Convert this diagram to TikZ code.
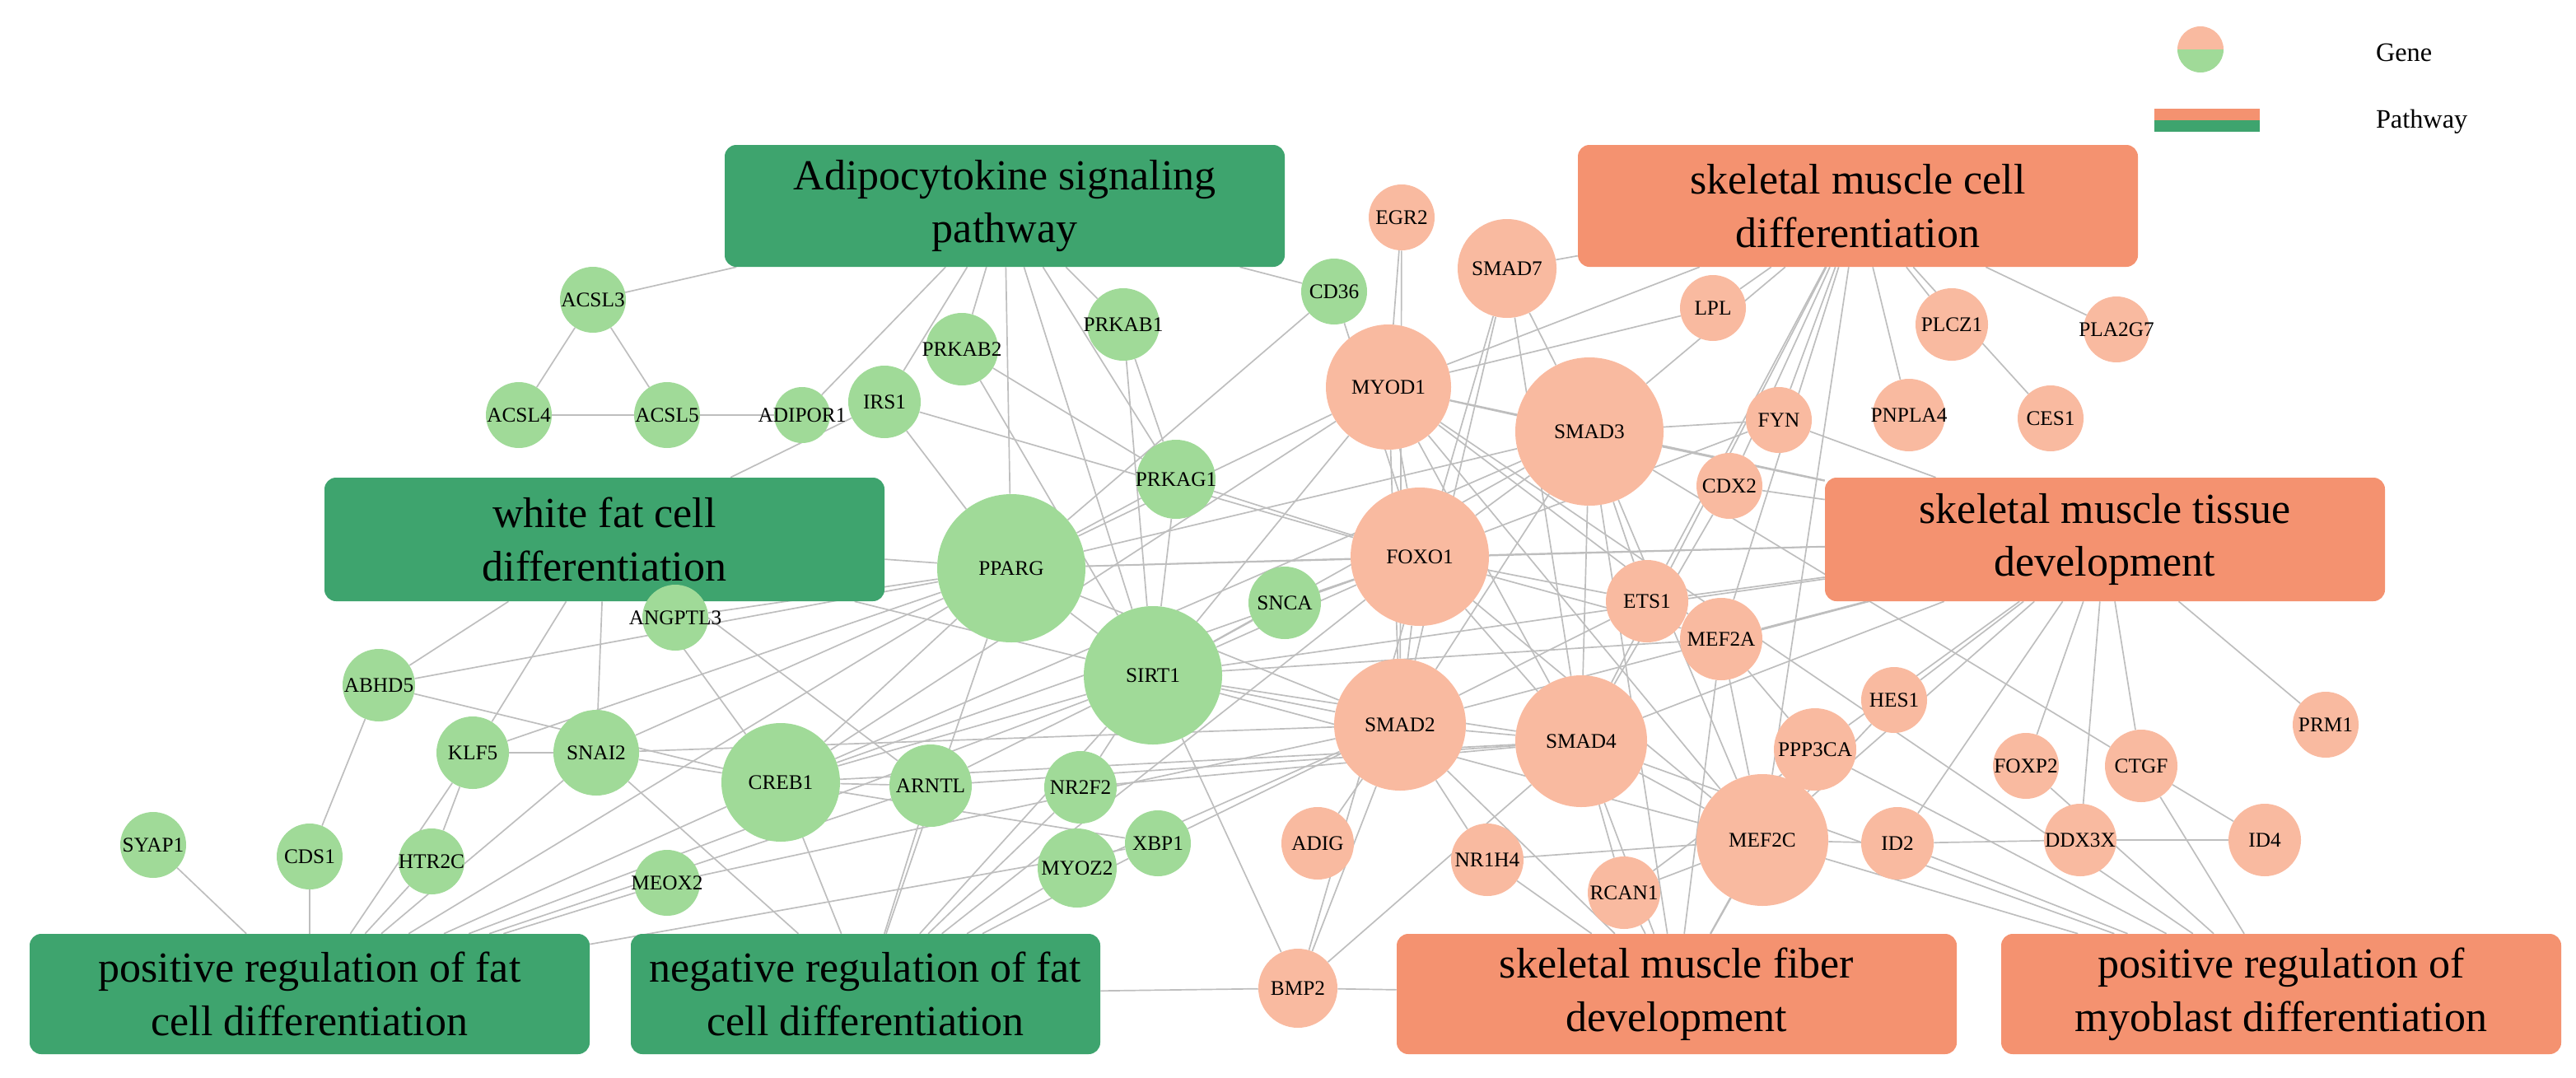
\documentclass[tikz,border=0pt]{standalone}
\usepackage{fontspec}
\setmainfont{Liberation Serif}
\usetikzlibrary{backgrounds}
\definecolor{gfill}{RGB}{160,218,152}
\definecolor{sfill}{RGB}{249,186,160}
\definecolor{gbox}{RGB}{62,164,110}
\definecolor{sbox}{RGB}{244,146,112}
\definecolor{edgec}{RGB}{190,190,190}
\tikzset{
 gene/.style={circle,inner sep=0pt},
 gg/.style={gene,fill=gfill},
 ss/.style={gene,fill=sfill},
 pw/.style={rounded corners=0.35cm,inner sep=0pt,align=center,font=\fontsize{37}{46}\selectfont},
 gp/.style={pw,fill=gbox},
 sp/.style={pw,fill=sbox},
 ed/.style={draw=edgec,line width=1.2pt},
 lab/.style={font=\fontsize{18}{20}\selectfont}
}
\newcommand\gN[4]{\node[gg,minimum size=#4*0.1cm,label={[lab]center:#1}] (#1) at (#2,#3) {};}
\newcommand\sN[4]{\node[ss,minimum size=#4*0.1cm,label={[lab]center:#1}] (#1) at (#2,#3) {};}
\newcommand\bX[6]{\node[#1,minimum width=(#4-#2)*0.05cm,minimum height=(#5-#3)*0.05cm] (#6) at ({(#2+#4)/2},{(#3+#5)/2})}
\begin{document}
\begin{tikzpicture}[x=0.05cm,y=-0.05cm]
\useasboundingbox (0,0) rectangle (1564,654);
% legend
\fill[sfill] (1322,30) arc (180:360:14) -- cycle;
\fill[gfill] (1322,30) arc (180:0:14) -- cycle;
\node[font=\fontsize{23}{25}\selectfont,anchor=west] (lg1) at (1440,32) {Gene};
\fill[sbox] (1308,66) rectangle (1372,73);
\fill[gbox] (1308,73) rectangle (1372,80);
\node[font=\fontsize{23}{25}\selectfont,anchor=west] (lg2) at (1440,74) {Pathway};
% pathways
\bX{gp}{440}{88}{780}{162}{adipo} {Adipocytokine signaling\\pathway};
\bX{sp}{958}{88}{1298}{162}{smcd} {skeletal muscle cell\\differentiation};
\bX{gp}{197}{290}{537}{365}{wfat} {white fat cell\\differentiation};
\bX{sp}{1108}{290}{1448}{365}{smtd} {skeletal muscle tissue\\development};
\bX{gp}{18}{567}{358}{640}{posfat} {positive regulation of fat\\cell differentiation};
\bX{gp}{383}{567}{668}{640}{negfat} {negative regulation of fat\\cell differentiation};
\bX{sp}{848}{567}{1188}{640}{smfd} {skeletal muscle fiber\\development};
\bX{sp}{1215}{567}{1555}{640}{posmyo} {positive regulation of\\myoblast differentiation};
% genes
\gN{ACSL3}{360}{182}{20}
\gN{ACSL4}{315}{252}{20}
\gN{ACSL5}{405}{252}{20}
\gN{ADIPOR1}{487}{252}{17}
\gN{IRS1}{537}{244}{22}
\gN{PRKAB2}{584}{212}{22}
\gN{PRKAB1}{682}{197}{22}
\gN{CD36}{810}{177}{20}
\gN{PRKAG1}{714}{291}{24}
\gN{PPARG}{614}{345}{45}
\gN{SNCA}{780}{366}{22}
\gN{SIRT1}{700}{410}{42}
\gN{ANGPTL3}{410}{375}{20}
\gN{ABHD5}{230}{416}{22}
\gN{KLF5}{287}{457}{22}
\gN{SNAI2}{362}{457}{26}
\gN{CREB1}{474}{475}{36}
\gN{ARNTL}{565}{477}{25}
\gN{NR2F2}{656}{478}{22}
\gN{SYAP1}{93}{513}{20}
\gN{CDS1}{188}{520}{20}
\gN{HTR2C}{262}{523}{20}
\gN{XBP1}{703}{512}{20}
\gN{MYOZ2}{654}{527}{24}
\gN{MEOX2}{405}{536}{20}
\sN{EGR2}{851}{132}{20}
\sN{SMAD7}{915}{163}{30}
\sN{LPL}{1040}{187}{20}
\sN{PLCZ1}{1185}{197}{22}
\sN{PLA2G7}{1285}{200}{20}
\sN{MYOD1}{843}{235}{38}
\sN{SMAD3}{965}{262}{45}
\sN{FYN}{1080}{255}{20}
\sN{PNPLA4}{1159}{252}{22}
\sN{CES1}{1245}{254}{20}
\sN{CDX2}{1050}{295}{20}
\sN{FOXO1}{862}{338}{42}
\sN{ETS1}{1000}{365}{25}
\sN{MEF2A}{1045}{388}{25}
\sN{HES1}{1150}{425}{20}
\sN{FOXP2}{1230}{465}{20}
\sN{CTGF}{1300}{465}{22}
\sN{PRM1}{1412}{440}{20}
\sN{SMAD2}{850}{440}{40}
\sN{SMAD4}{960}{450}{40}
\sN{PPP3CA}{1102}{455}{25}
\sN{MEF2C}{1070}{510}{40}
\sN{ID2}{1152}{512}{22}
\sN{DDX3X}{1263}{510}{22}
\sN{ID4}{1375}{510}{22}
\sN{ADIG}{800}{512}{22}
\sN{NR1H4}{903}{522}{22}
\sN{RCAN1}{986}{542}{22}
\sN{BMP2}{788}{600}{24}
\begin{pgfonlayer}{background}
\foreach \a/\b in {
adipo/ACSL3,adipo/IRS1,adipo/PRKAB2,adipo/PRKAB1,adipo/PRKAG1,adipo/CD36,adipo/PPARG,adipo/ADIPOR1,adipo/SIRT1,
ACSL3/ACSL4,ACSL3/ACSL5,ACSL4/ACSL5,ACSL5/ADIPOR1,
wfat/ABHD5,wfat/ANGPTL3,wfat/SNAI2,wfat/KLF5,wfat/CREB1,wfat/PPARG,wfat/SIRT1,wfat/IRS1,wfat/ARNTL,
posfat/SYAP1,posfat/CDS1,posfat/HTR2C,posfat/KLF5,posfat/SNAI2,posfat/CREB1,posfat/PPARG,posfat/MEOX2,posfat/ARNTL,posfat/SIRT1,posfat/XBP1,
negfat/CREB1,negfat/ARNTL,negfat/MYOZ2,negfat/SIRT1,negfat/NR2F2,negfat/XBP1,negfat/BMP2,negfat/SNAI2,negfat/PPARG,negfat/FOXO1,
smcd/SMAD7,smcd/LPL,smcd/PLCZ1,smcd/PLA2G7,smcd/CES1,smcd/PNPLA4,smcd/FYN,smcd/SMAD3,smcd/MYOD1,smcd/MEF2A,smcd/ETS1,smcd/MEF2C,smcd/CDX2,smcd/SMAD4,
smtd/FOXO1,smtd/SMAD3,smtd/FYN,smtd/CDX2,smtd/ETS1,smtd/MEF2A,smtd/HES1,smtd/FOXP2,smtd/CTGF,smtd/PRM1,smtd/ID2,smtd/DDX3X,smtd/MEF2C,smtd/PPP3CA,smtd/SMAD2,smtd/SMAD4,smtd/SIRT1,smtd/PPARG,smtd/MYOD1,
smfd/SMAD4,smfd/MEF2C,smfd/RCAN1,smfd/NR1H4,smfd/BMP2,smfd/SMAD2,smfd/PPP3CA,smfd/MEF2A,smfd/SMAD3,
posmyo/MEF2C,posmyo/ID2,posmyo/CTGF,posmyo/FOXP2,posmyo/PPP3CA,posmyo/MYOD1,posmyo/SMAD4,
PPARG/SIRT1,PPARG/FOXO1,PPARG/CREB1,PPARG/IRS1,PPARG/PRKAG1,PPARG/SNAI2,PPARG/ANGPTL3,PPARG/ABHD5,PPARG/KLF5,PPARG/SMAD3,PPARG/MYOD1,PPARG/SMAD2,PPARG/CD36,
SIRT1/FOXO1,SIRT1/SMAD2,SIRT1/SMAD4,SIRT1/CREB1,SIRT1/MYOD1,SIRT1/SMAD3,SIRT1/PRKAG1,SIRT1/ARNTL,SIRT1/NR2F2,SIRT1/MEF2A,SIRT1/PRKAB1,SIRT1/SNCA,SIRT1/MEF2C,
CREB1/SMAD4,CREB1/FOXO1,CREB1/ARNTL,CREB1/SNAI2,CREB1/XBP1,CREB1/SMAD3,CREB1/MYOD1,CREB1/ABHD5,
FOXO1/SMAD3,FOXO1/SMAD2,FOXO1/SMAD4,FOXO1/MYOD1,FOXO1/ETS1,FOXO1/MEF2A,FOXO1/MEF2C,FOXO1/IRS1,FOXO1/PRKAG1,FOXO1/CD36,FOXO1/FYN,
SMAD2/SMAD4,SMAD2/SMAD3,SMAD2/SMAD7,SMAD3/SMAD4,SMAD3/SMAD7,SMAD3/MYOD1,SMAD4/SMAD7,SMAD4/MEF2C,SMAD3/ETS1,SMAD3/FYN,SMAD3/CTGF,SMAD3/MEF2C,
MYOD1/MEF2C,MYOD1/MEF2A,MYOD1/SMAD2,MYOD1/SMAD4,MYOD1/EGR2,MYOD1/LPL,
MEF2A/MEF2C,MEF2C/PPP3CA,MEF2C/RCAN1,MEF2C/ID2,PPP3CA/RCAN1,MEF2C/HES1,MEF2A/PPP3CA,
ETS1/SMAD2,DDX3X/ID4,CTGF/ID4,ID2/DDX3X,EGR2/SMAD2,PRKAB1/PRKAG1,PRKAB2/PRKAG1,PRKAB2/SIRT1,
BMP2/SMAD4,BMP2/SMAD2,BMP2/SMAD7,BMP2/SIRT1,NR1H4/SMAD2,NR1H4/MEF2C,ADIG/SMAD2,XBP1/SMAD2,MYOZ2/SMAD2,NR2F2/SMAD4,CDX2/SMAD4,MEOX2/SMAD2,
KLF5/SNAI2,KLF5/HTR2C,ABHD5/CDS1,SNAI2/SMAD2,ARNTL/SMAD4,RCAN1/SMAD4,SNCA/FOXO1}
{\draw[ed] (\a) -- (\b);}
\end{pgfonlayer}
\end{tikzpicture}
\end{document}
